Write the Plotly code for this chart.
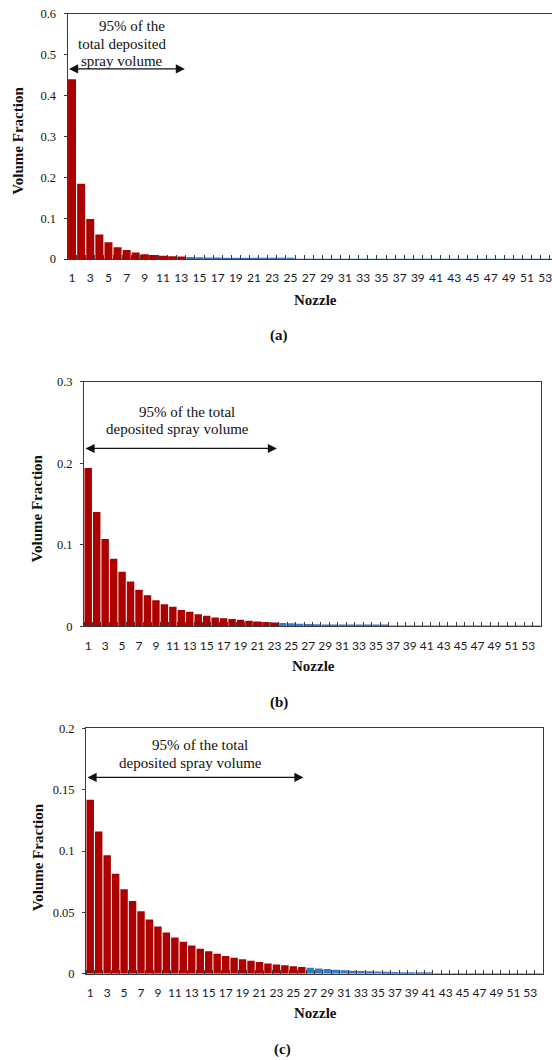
import plotly.graph_objects as go

W, H = 552, 1060

nozzles = list(range(1, 55))
x_tick_vals = list(range(1, 54, 2))

# Panel (a): nozzles 1-13 red (95% of deposit), rest blue
vf_a = [0.440, 0.184, 0.098, 0.060, 0.041, 0.029, 0.022, 0.016, 0.012, 0.010, 0.008, 0.007, 0.006,
        0.005, 0.0045, 0.004, 0.0036, 0.0033, 0.003, 0.0027, 0.0024, 0.0021, 0.0018, 0.0016, 0.0012,
        0.0007, 0.0006, 0.0005, 0.0005, 0.0004, 0.0004, 0.0003, 0.0003, 0.0003, 0.0003, 0.0002, 0.0002,
        0.0002, 0.0002, 0.0002, 0.0002, 0.0002, 0.0001, 0.0001, 0.0001, 0.0001, 0.0001, 0.0001, 0.0001,
        0.0001, 0.0001, 0.0001, 0.0001, 0.0001]
n_red_a = 13

# Panel (b): nozzles 1-23 red
vf_b = [0.194, 0.140, 0.107, 0.083, 0.067, 0.055, 0.045, 0.038, 0.032, 0.027, 0.024, 0.020, 0.018,
        0.015, 0.013, 0.011, 0.010, 0.009, 0.008, 0.007, 0.006, 0.0055, 0.0048,
        0.0042, 0.0037, 0.0033, 0.0029, 0.0026, 0.0023, 0.0021, 0.0019, 0.0017, 0.0015, 0.0014, 0.0012,
        0.0011, 0.001, 0.0009, 0.0004, 0.0004, 0.0003, 0.0003, 0.0003, 0.0003, 0.0002, 0.0002, 0.0002,
        0.0002, 0.0002, 0.0001, 0.0001, 0.0001, 0.0001, 0.0001]
n_red_b = 23

# Panel (c): nozzles 1-26 red
vf_c = [0.1417, 0.116, 0.0966, 0.0814, 0.0689, 0.0592, 0.051, 0.0442, 0.0385, 0.0336, 0.0296, 0.026,
        0.023, 0.0204, 0.0182, 0.0163, 0.0144, 0.013, 0.0117, 0.0106, 0.0095, 0.0084, 0.0076, 0.0068,
        0.006, 0.0054,
        0.0049, 0.0043, 0.0038, 0.0033, 0.0029, 0.0025, 0.0022, 0.0019, 0.0017, 0.0015, 0.0013, 0.0011,
        0.001, 0.0009, 0.0008, 0.00025, 0.00022, 0.0002, 0.00018, 0.00016, 0.00015, 0.00014, 0.00013,
        0.00012, 0.00011, 0.0001, 0.0001, 0.0001]
n_red_c = 26

RED = "#AD0000"
BLUE = "#3A78C9"
AXC = "#3a3a3a"
SERIF = "Liberation Serif"
SANS = "Lato"

# observed vertical mapping of the capture: seen = A*y + B
A_Y, B_Y = 0.9873, 6.3


def px_x(p):
    return p / W


def px_y(p):
    return 1 - ((p - B_Y) / A_Y) / H


panels = [
    dict(vals=vf_a, nred=n_red_a, x0=67.5, x1=552, top=13, bot=258.5, yr=[0, 0.6], dt=0.1,
         xr=[0.5, 0.5 + (552 - 67.5) / 9.1], mirror_y=False),
    dict(vals=vf_b, nred=n_red_b, x0=84, x1=541, top=381, bot=626, yr=[0, 0.3], dt=0.1,
         xr=[0.5, 54.5], mirror_y=True),
    dict(vals=vf_c, nred=n_red_c, x0=86, x1=543, top=728, bot=973.5, yr=[0, 0.2], dt=0.05,
         xr=[0.5, 54.5], mirror_y=True),
]

fig = go.Figure()
layout = dict(
    width=W, height=H, margin=dict(l=0, r=0, t=0, b=0),
    paper_bgcolor="white", plot_bgcolor="white",
    showlegend=False, bargap=0.12,
)

for i, p in enumerate(panels):
    sfx = "" if i == 0 else str(i + 1)
    colors = [RED if n <= p["nred"] else BLUE for n in nozzles]
    fig.add_trace(go.Bar(x=nozzles, y=p["vals"], marker=dict(color=colors, line=dict(width=0)),
                         xaxis="x" + sfx, yaxis="y" + sfx, hoverinfo="x+y"))
    layout["xaxis" + sfx] = dict(
        domain=[px_x(p["x0"]), px_x(p["x1"])], anchor="y" + sfx, range=p["xr"],
        tickmode="array", tickvals=x_tick_vals, ticks="",
        minor=dict(ticks="inside", ticklen=4, tick0=0.5, dtick=1, tickcolor=AXC, tickwidth=1),
        showline=True, linecolor=AXC, linewidth=1, mirror=True, showgrid=False, zeroline=False,
        tickfont=dict(family=SANS, size=12, color="#1a1a1a"), ticklabelstandoff=8,
        ticklabeloverflow="allow",
    )
    layout["yaxis" + sfx] = dict(
        domain=[px_y(p["bot"]), px_y(p["top"])], anchor="x" + sfx, range=p["yr"],
        dtick=p["dt"], tick0=0, ticks="outside", ticklen=3, tickcolor=AXC,
        showline=True, linecolor=AXC, linewidth=1, mirror=p["mirror_y"],
        showgrid=False, zeroline=False,
        tickfont=dict(family=SERIF, size=12.5, color="#111"), ticklabelstandoff=5,
    )

fig.update_layout(**layout)

ann = []


def text(xp, yp, s, size=15, bold=False, angle=0):
    ann.append(dict(x=px_x(xp), y=px_y(yp), xref="paper", yref="paper", text=("<b>%s</b>" % s) if bold else s,
                    showarrow=False, textangle=angle, xanchor="center", yanchor="middle",
                    font=dict(family=SERIF, size=size, color="#111")))


# axis titles
for (xp, yp) in [(18, 140), (37, 508), (38, 857)]:
    text(xp, yp, "Volume Fraction", size=15, bold=True, angle=-90)
for (xp, yp) in [(315, 299), (313, 666), (315, 1013)]:
    text(xp, yp, "Nozzle", size=15, bold=True)
for (xp, yp, s) in [(279, 335, "(a)"), (279, 702, "(b)"), (282, 1049, "(c)")]:
    text(xp, yp, s, size=15, bold=True)

# 95% annotations
text(132, 25, "95% of the")
text(121.5, 43, "total deposited")
text(122, 60, "spray volume")
text(187, 412, "95% of the total")
text(177, 429, "deposited spray volume")
text(200, 745, "95% of the total")
text(190, 763, "deposited spray volume")

# double-headed arrows (data coords)
arrows = [("", 0.5, 13.4, 0.465), ("2", 0.5, 23.3, 0.218), ("3", 0.5, 26.2, 0.160)]
for sfx, xa, xb, yv in arrows:
    ann.append(dict(x=xb, y=yv, ax=xa, ay=yv, xref="x" + sfx, yref="y" + sfx,
                    axref="x" + sfx, ayref="y" + sfx, text="", showarrow=True,
                    arrowhead=2, arrowside="end+start", arrowsize=1.4, arrowwidth=1.3,
                    arrowcolor="#111", standoff=0, startstandoff=0))

fig.update_layout(annotations=ann)
fig.write_html("out.html")
